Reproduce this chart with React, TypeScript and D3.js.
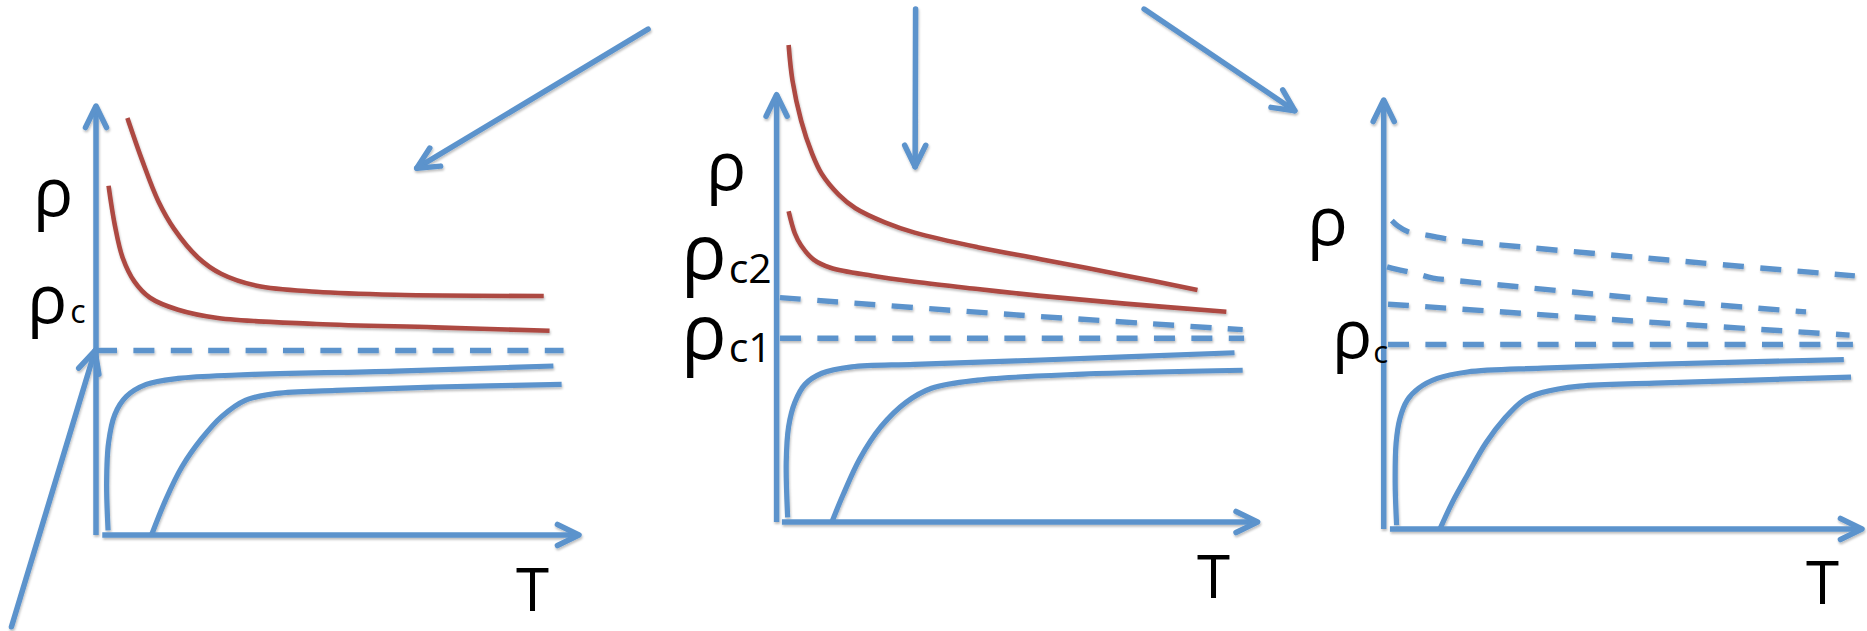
import React from 'react';
import * as d3 from 'd3';

type Pt = [number, number];

// Each panel: temperature T along x (0–100), resistivity ρ up y (0–100).
// Points are [T, ρ].

// ---- Panel 1: a single critical value ρc ----
const p1InsulatingHigh: Pt[] = [
  [6.5, 97.2], [9.6, 87.2], [12.9, 77.8], [16.2, 71.3], [21.1, 64.7], [25.9, 60.9],
  [33.3, 58.1], [45.6, 56.7], [61.9, 56.0], [92.7, 55.7],
];
const p1InsulatingLow: Pt[] = [
  [2.6, 81.4], [3.9, 72.2], [5.5, 64.7], [8.0, 59.0], [11.2, 55.3], [17.0, 52.5],
  [25.2, 50.6], [45.6, 49.2], [70.1, 48.4], [93.9, 47.6],
];
const p1Separatrix: Pt[][] = [
  [[0, 43], [96.8, 43]],
];
const p1SuperHigh: Pt[] = [
  [2.5, 1.1], [2.2, 12.1], [2.6, 21.5], [3.9, 28.1], [6.3, 32.3], [10.4, 35.1],
  [17.0, 36.5], [29.2, 37.3], [62.0, 38.2], [94.7, 39.4],
];
const p1SuperLow: Pt[] = [
  [11.5, 0], [14.5, 8.4], [17.8, 15.9], [21.9, 22.5], [26.0, 27.6], [30.9, 31.4],
  [37.4, 33.0], [49.7, 33.7], [70.2, 34.5], [96.4, 35.1],
];

// ---- Panel 2: two critical values ρc1, ρc2 ----
const p2InsulatingHigh: Pt[] = [
  [2.5, 111.6], [3.3, 103.3], [5.1, 93.9], [7.3, 86.4], [9.4, 81.4], [12.9, 76.6],
  [16.4, 73.4], [22.5, 70.1], [28.7, 67.7], [41.8, 64.3], [54.9, 61.5], [72.4, 57.7],
  [87.5, 54.3],
];
const p2InsulatingLow: Pt[] = [
  [2.5, 72.7], [3.8, 67.5], [5.1, 64.7], [7.7, 61.4], [11.2, 59.5], [19.9, 57.6],
  [28.7, 56.2], [41.8, 54.5], [54.9, 52.9], [72.4, 51.1], [93.5, 49.2],
];
const p2Separatrix: Pt[][] = [
  [[0.7, 52.5], [48, 48.6], [96.9, 45.0]],
  [[0.7, 43], [97.2, 43]],
];
const p2SuperHigh: Pt[] = [
  [2.3, 1.1], [2.0, 13.9], [2.5, 22.3], [3.8, 28.0], [5.9, 32.2], [9.4, 34.8],
  [15.6, 36.3], [28.7, 36.9], [54.9, 37.9], [95.2, 39.6],
];
const p2SuperLow: Pt[] = [
  [11.5, 0], [13.8, 6.3], [17.3, 14.8], [21.7, 22.3], [26.9, 28.0], [32.2, 31.3],
  [41.8, 33.2], [63.7, 34.6], [96.9, 35.5],
];

// ---- Panel 3: a family of separatrices above ρc ----
const p3Separatrix: Pt[][] = [
  [[1.7, 71.9], [3.0, 70.6], [5.1, 69.3], [9.0, 68.5], [12.8, 67.7], [16.6, 67.1], [59.5, 62.7], [98.5, 59.0]],
  [[0.7, 61.1], [2.8, 60.5], [6.5, 59.6], [10.3, 58.5], [14.3, 58.0], [57.2, 53.4], [88.3, 50.6]],
  [[0.9, 52.4], [5.1, 52.1], [59.9, 47.9], [97.4, 45.2]],
  [[0.9, 43], [98.1, 43]],
];
const p3SuperHigh: Pt[] = [
  [2.7, 0.9], [2.4, 10.7], [2.6, 20.1], [3.4, 25.8], [4.9, 30.0], [7.3, 32.8],
  [11.2, 35.1], [17.5, 36.6], [33.1, 37.5], [56.6, 38.4], [96.2, 39.5],
];
const p3SuperLow: Pt[] = [
  [11.8, 0.1], [14.3, 6.1], [17.5, 12.6], [21.4, 20.1], [25.3, 25.8], [29.2, 30.0],
  [33.1, 31.8], [41.0, 33.3], [56.6, 34.0], [97.7, 35.4],
];

// Axis titles and critical-value labels
const X_TITLE = 'T';
const Y_TITLE = 'ρ';
const p1CriticalLabels = [{ base: 'ρ', sub: 'c' }];
const p2CriticalLabels = [{ base: 'ρ', sub: 'c2' }, { base: 'ρ', sub: 'c1' }];
const p3CriticalLabels = [{ base: 'ρ', sub: 'c' }];

// Pointer arrows in panel coordinates: [panel index, tail, head]
const pointerArrows: { panel: number; from: Pt; to: Pt }[] = [
  { panel: 0, from: [114.3, 117.9], to: [66.4, 85.5] },
  { panel: 1, from: [28.9, 120.0], to: [28.8, 83.1] },
  { panel: 2, from: [-50.1, 121.2], to: [-18.6, 97.5] },
  { panel: 0, from: [-17.5, -21.4], to: [-0.2, 43] },
];

const BLUE = '#5B93CC';
const RED = '#AD4943';
const FONT = '"Open Sans", "Noto Sans", sans-serif';

const panels = [
  {
    frame: { x0: 96, x1: 579, y0: 535, y1: 106 },
    insulating: [p1InsulatingHigh, p1InsulatingLow],
    separatrix: p1Separatrix,
    superconducting: [p1SuperHigh, p1SuperLow],
    xAxisStart: 1.3,
    yTitle: { x: 33, y: 216, size: 67 },
    xTitle: { x: 516, y: 611, size: 60 },
    critical: p1CriticalLabels,
    criticalPos: [{ x: 27, y: 323, size: 67, subSize: 32, subDx: 3, subDy: 0 }],
  },
  {
    frame: { x0: 776.6, x1: 1257.6, y0: 522, y1: 94.6 },
    insulating: [p2InsulatingHigh, p2InsulatingLow],
    separatrix: p2Separatrix,
    superconducting: [p2SuperHigh, p2SuperLow],
    xAxisStart: 1.1,
    yTitle: { x: 706, y: 190, size: 67 },
    xTitle: { x: 1197, y: 598, size: 60 },
    critical: p2CriticalLabels,
    criticalPos: [
      { x: 681, y: 279, size: 76, subSize: 41, subDx: 2, subDy: 4 },
      { x: 681, y: 359, size: 76, subSize: 41, subDx: 2, subDy: 3 },
    ],
  },
  {
    frame: { x0: 1383.7, x1: 1862, y0: 529, y1: 100 },
    insulating: [] as Pt[][],
    separatrix: p3Separatrix,
    superconducting: [p3SuperHigh, p3SuperLow],
    xAxisStart: 1.3,
    yTitle: { x: 1307, y: 245, size: 68 },
    xTitle: { x: 1806, y: 604, size: 60 },
    critical: p3CriticalLabels,
    criticalPos: [{ x: 1332, y: 358, size: 67, subSize: 31, subDx: 1, subDy: 5 }],
  },
];

// Open chevron arrowhead at `tip`, pointing away from `tail`
function chevron(tip: Pt, tail: Pt, len = 24, half = 26): string {
  const dx = tail[0] - tip[0];
  const dy = tail[1] - tip[1];
  const ang = Math.atan2(dy, dx);
  const a = (half * Math.PI) / 180;
  const p1: Pt = [tip[0] + len * Math.cos(ang + a), tip[1] + len * Math.sin(ang + a)];
  const p2: Pt = [tip[0] + len * Math.cos(ang - a), tip[1] + len * Math.sin(ang - a)];
  return `M${p1[0]},${p1[1]}L${tip[0]},${tip[1]}L${p2[0]},${p2[1]}`;
}

export default function App() {
  const scales = panels.map((p) => ({
    x: d3.scaleLinear().domain([0, 100]).range([p.frame.x0, p.frame.x1]),
    y: d3.scaleLinear().domain([0, 100]).range([p.frame.y0, p.frame.y1]),
  }));

  return (
    <svg
      width={1867}
      height={631}
      style={{ position: 'absolute', left: 0, top: 0, background: '#fff' }}
    >
      <defs>
        <filter id="soft" x="-10%" y="-10%" width="120%" height="130%">
          <feDropShadow dx="0.8" dy="2" stdDeviation="1.3" floodColor="#000" floodOpacity="0.25" />
        </filter>
      </defs>

      <g filter="url(#soft)" fill="none">
        {panels.map((p, i) => {
          const { x, y } = scales[i];
          const line = d3
            .line<Pt>()
            .x((d) => x(d[0]))
            .y((d) => y(d[1]))
            .curve(d3.curveCatmullRom.alpha(0.5));
          const yBase: Pt = [x(0), y(0)];
          const yTip: Pt = [x(0), y(100)];
          const xBase: Pt = [x(p.xAxisStart), y(0)];
          const xTip: Pt = [x(100), y(0)];
          return (
            <g key={i}>
              {p.insulating.map((c, j) => (
                <path key={`r${j}`} d={line(c) ?? ''} stroke={RED} strokeWidth={4.6} />
              ))}
              {p.separatrix.map((c, j) => (
                <path
                  key={`s${j}`}
                  d={line(c) ?? ''}
                  stroke={BLUE}
                  strokeWidth={5.4}
                  strokeDasharray="21 16.4"
                />
              ))}
              {p.superconducting.map((c, j) => (
                <path key={`b${j}`} d={line(c) ?? ''} stroke={BLUE} strokeWidth={5.2} />
              ))}
              {/* axes */}
              <path
                d={`M${yBase[0]},${yBase[1]}L${yTip[0]},${yTip[1]}`}
                stroke={BLUE}
                strokeWidth={5.5}
              />
              <path d={chevron(yTip, yBase)} stroke={BLUE} strokeWidth={5.5} strokeLinecap="round" strokeLinejoin="round" />
              <path
                d={`M${xBase[0]},${xBase[1]}L${xTip[0]},${xTip[1]}`}
                stroke={BLUE}
                strokeWidth={5.5}
              />
              <path d={chevron(xTip, xBase)} stroke={BLUE} strokeWidth={5.5} strokeLinecap="round" strokeLinejoin="round" />
            </g>
          );
        })}

        {pointerArrows.map((a, k) => {
          const { x, y } = scales[a.panel];
          const tail: Pt = [x(a.from[0]), y(a.from[1])];
          const tip: Pt = [x(a.to[0]), y(a.to[1])];
          return (
            <g key={`a${k}`} stroke={BLUE} strokeWidth={5.5} strokeLinecap="round" strokeLinejoin="round">
              <path d={`M${tail[0]},${tail[1]}L${tip[0]},${tip[1]}`} />
              <path d={chevron(tip, tail)} />
            </g>
          );
        })}
      </g>

      <g fontFamily={FONT} fill="#000">
        {panels.map((p, i) => (
          <g key={`t${i}`}>
            <text x={p.yTitle.x} y={p.yTitle.y} fontSize={p.yTitle.size}>
              {Y_TITLE}
            </text>
            <text x={p.xTitle.x} y={p.xTitle.y} fontSize={p.xTitle.size}>
              {X_TITLE}
            </text>
            {p.critical.map((c, j) => {
              const pos = p.criticalPos[j];
              return (
                <text key={j} x={pos.x} y={pos.y} fontSize={pos.size}>
                  {c.base}
                  <tspan fontSize={pos.subSize} dx={pos.subDx} dy={pos.subDy}>
                    {c.sub}
                  </tspan>
                </text>
              );
            })}
          </g>
        ))}
      </g>
    </svg>
  );
}
